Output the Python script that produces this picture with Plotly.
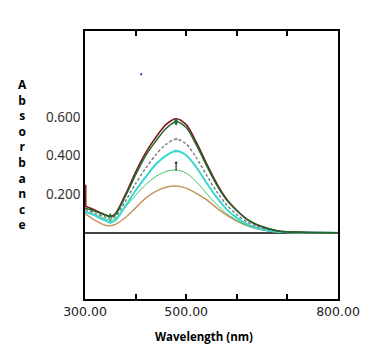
import plotly.graph_objects as go

wavelength = [300, 320, 340, 350, 360, 380, 400, 420, 440, 460, 480, 500, 520, 540,
              560, 580, 600, 620, 640, 660, 680, 700, 750, 800]

abs_darkred = [0.140, 0.118, 0.095, 0.087, 0.100, 0.200, 0.315, 0.415, 0.495, 0.560, 0.590, 0.560,
               0.470, 0.360, 0.258, 0.175, 0.118, 0.072, 0.043, 0.025, 0.012, 0.006, 0.003, 0.002]
abs_darkgreen = [0.130, 0.112, 0.092, 0.083, 0.095, 0.190, 0.300, 0.400, 0.475, 0.540, 0.575, 0.545,
                 0.455, 0.350, 0.250, 0.170, 0.115, 0.070, 0.042, 0.025, 0.012, 0.006, 0.003, 0.002]
abs_gray = [0.122, 0.103, 0.082, 0.075, 0.085, 0.165, 0.255, 0.335, 0.405, 0.458, 0.486, 0.460,
            0.390, 0.300, 0.215, 0.145, 0.095, 0.058, 0.034, 0.020, 0.010, 0.005, 0.002, 0.001]
abs_cyan = [0.110, 0.090, 0.065, 0.055, 0.065, 0.140, 0.220, 0.290, 0.355, 0.400, 0.424, 0.402,
            0.340, 0.260, 0.185, 0.122, 0.078, 0.046, 0.026, 0.014, 0.007, 0.004, 0.002, 0.001]
abs_green = [0.112, 0.095, 0.073, 0.066, 0.075, 0.135, 0.195, 0.250, 0.292, 0.318, 0.326, 0.310,
             0.265, 0.205, 0.148, 0.100, 0.065, 0.040, 0.023, 0.013, 0.007, 0.004, 0.002, 0.001]
abs_tan = [0.100, 0.065, 0.040, 0.038, 0.045, 0.080, 0.130, 0.180, 0.215, 0.236, 0.243, 0.232,
           0.205, 0.172, 0.130, 0.092, 0.062, 0.038, 0.022, 0.012, 0.006, 0.003, 0.001, 0.001]

marker_idx = [3, 10]  # trough and peak points carrying markers

spike_x = [301, 301]
spike_y = [0.135, 0.25]
dot_x = [411]
dot_y = [0.82]
arrow_x = 480
arrow_y0, arrow_y1 = 0.315, 0.37

x_tickvals = [300, 400, 500, 600, 700, 800]
x_ticktext = ["300.00", "", "500.00", "", "", "800.00"]
y_tickvals = [0.2, 0.4, 0.6]
y_ticktext = ["0.200", "0.400", "0.600"]

series = [
    (abs_tan, "#c4935e", 1.5, "solid"),
    (abs_green, "#3cc463", 1.0, "solid"),
    (abs_cyan, "#36d8d2", 2.0, "solid"),
    (abs_gray, "#808080", 1.5, "3px,2px"),
    (abs_darkred, "#7a1414", 1.5, "solid"),
    (abs_darkgreen, "#1d6b2c", 1.5, "solid"),
]

fig = go.Figure()
for ys, color, w, dash in series:
    fig.add_trace(go.Scatter(x=wavelength, y=ys, mode="lines",
                             line=dict(color=color, width=w, dash=dash, shape="spline", smoothing=0.8),
                             showlegend=False, hoverinfo="skip"))

for ys, color, sym, sz in [(abs_darkgreen, "#1d6b2c", "diamond-tall", 6),
                           (abs_cyan, "#36d8d2", "circle", 3),
                           (abs_gray, "#7fb0b0", "circle", 3)]:
    fig.add_trace(go.Scatter(x=[wavelength[i] for i in marker_idx], y=[ys[i] for i in marker_idx],
                             mode="markers", marker=dict(color=color, size=sz, symbol=sym,
                                                         line=dict(width=0)),
                             showlegend=False, hoverinfo="skip"))

fig.add_trace(go.Scatter(x=spike_x, y=spike_y, mode="lines", line=dict(color="#8b1a1a", width=2),
                         showlegend=False, hoverinfo="skip"))
fig.add_trace(go.Scatter(x=dot_x, y=dot_y, mode="markers", marker=dict(color="blue", size=2),
                         showlegend=False, hoverinfo="skip"))

fig.add_annotation(x=arrow_x, y=arrow_y1, ax=arrow_x, ay=arrow_y0, xref="x", yref="y",
                   axref="x", ayref="y", showarrow=True, arrowhead=1, arrowsize=0.6,
                   arrowwidth=1, arrowcolor="black", text="")

fig.add_annotation(text="<br>".join(list("Absorbance")), xref="paper", yref="paper",
                   x=-0.249, y=0.54, xanchor="center", yanchor="middle", showarrow=False,
                   font=dict(family="Open Sans", size=12, color="black", weight="bold"),
                   align="center")
fig.add_annotation(text="Wavelength (nm)", xref="paper", yref="paper", x=0.47, y=-0.14,
                   xanchor="center", yanchor="middle", showarrow=False,
                   font=dict(family="Open Sans", size=11.5, color="black", weight="bold"))

fig.update_layout(
    width=380, height=350,
    margin=dict(l=85, r=42, t=31, b=51),
    paper_bgcolor="white", plot_bgcolor="white",
    xaxis=dict(range=[300, 800], tickvals=x_tickvals, ticktext=x_ticktext,
               ticks="inside", ticklen=5, tickwidth=1.5, tickcolor="black",
               showline=True, linecolor="black", linewidth=1.5, mirror="ticks",
               showgrid=False, zeroline=False,
               tickfont=dict(family="DejaVu Sans", size=12.5, color="#222")),
    yaxis=dict(range=[-0.341, 1.044], tickvals=y_tickvals, ticktext=y_ticktext,
               ticks="", showline=True, linecolor="black", linewidth=1.5, mirror=True,
               showgrid=False, zeroline=True, zerolinecolor="#444", zerolinewidth=1.5,
               tickfont=dict(family="Noto Sans", size=13.5, color="#333")),
)

fig.write_html("out.html")
